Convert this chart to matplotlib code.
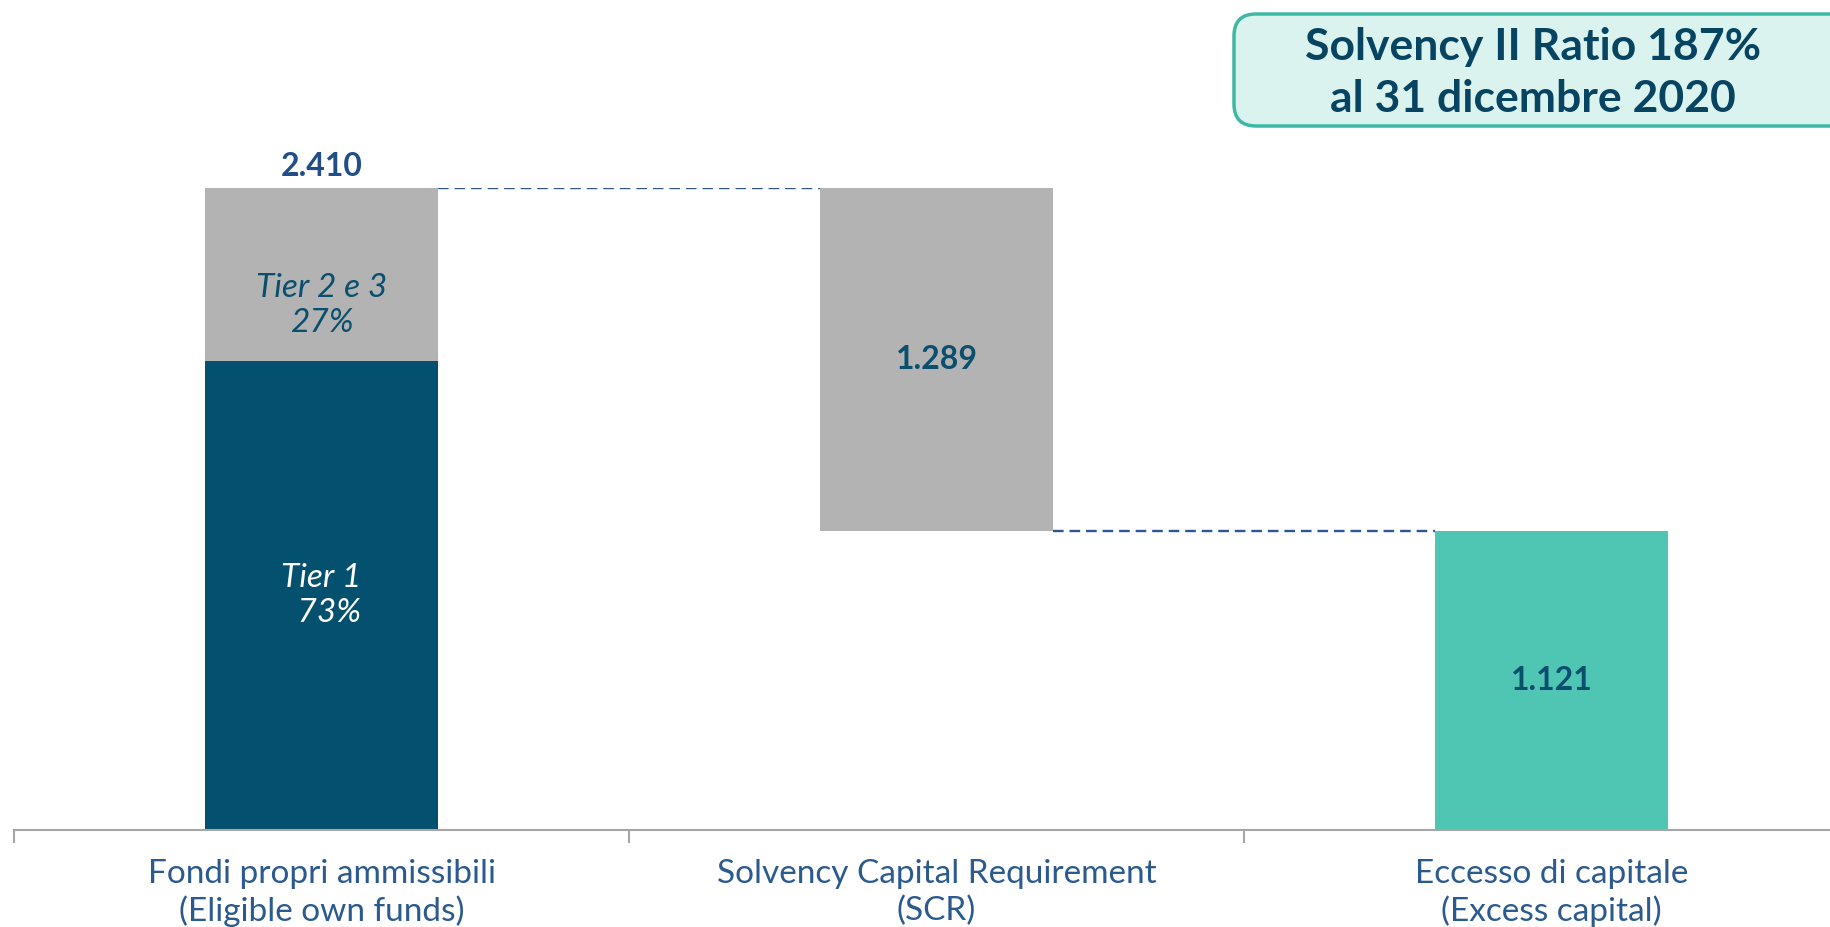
import matplotlib.pyplot as plt
from matplotlib.patches import FancyBboxPatch

categories = ["Fondi propri ammissibili\n(Eligible own funds)",
              "Solvency Capital Requirement\n(SCR)",
              "Eccesso di capitale\n(Excess capital)"]
own_funds = 2410
tier_share = [73, 27]          # Tier 1, Tier 2 e 3 (%)
scr = 1289
excess = 1121
title = "Solvency II Ratio 187%\nal 31 dicembre 2020"

plt.rcParams["font.family"] = ["Lato", "DejaVu Sans"]
DARK, GREY, TEAL = "#03506F", "#B2B3B2", "#4FC6B3"
TXT, LBL = "#0A4F6E", "#2B5A8E"

fig = plt.figure(figsize=(18.31, 9.27), dpi=100)
W, H = 1831, 927
cw = 615
ax = fig.add_axes([14 / W, (H - 830) / H, 3 * cw / W, 642 / H])
ax.set_xlim(-0.5, 2.5)
ax.set_ylim(0, own_funds)

w = 0.38
tier1 = own_funds * tier_share[0] / 100
tier2 = own_funds - tier1
ax.bar(0, tier1, w, color=DARK)
ax.bar(0, tier2, w, bottom=tier1, color=GREY)
ax.bar(1, scr, w, bottom=own_funds - scr, color=GREY)
ax.bar(2, excess, w, color=TEAL)

# connectors
dash = (0, (4.5, 2.5))
ax.plot([w / 2, 1 - w / 2], [own_funds, own_funds], ls=dash, color="#2F5597", lw=1.7)
ax.plot([1 + w / 2, 2 - w / 2], [own_funds - scr, own_funds - scr], ls=dash,
        color="#2F5597", lw=1.7)

ax.text(0, own_funds + 25, f"{own_funds:,}".replace(",", "."), ha="center", va="bottom",
        fontsize=23, fontweight="bold", color="#1F4E89", clip_on=False)
ax.text(0, tier1 + tier2 * 0.32, f"Tier 2 e 3\n{tier_share[1]}%", ha="center", va="center",
        fontsize=24, style="italic", color=TXT, linespacing=1.2)
ax.text(0, tier1 / 2, f"Tier 1\n  {tier_share[0]}%", ha="center", va="center",
        fontsize=24, style="italic", color="white", linespacing=1.2)
ax.text(1, own_funds - scr * 0.5, f"{scr:,}".replace(",", "."), ha="center", va="center",
        fontsize=23, fontweight="bold", color=TXT)
ax.text(2, excess * 0.5, f"{excess:,}".replace(",", "."), ha="center", va="center",
        fontsize=23, fontweight="bold", color=TXT)

for s in ("top", "right", "left"):
    ax.spines[s].set_visible(False)
ax.spines["bottom"].set_color("#A6A6A6")
ax.spines["bottom"].set_linewidth(1.5)
ax.set_yticks([])
ax.set_xticks([-0.5, 0.5, 1.5, 2.5])
ax.set_xticklabels([])
ax.tick_params(axis="x", length=9, width=1.5, color="#A6A6A6")
ax.set_xticks([0, 1, 2], minor=True)
ax.set_xticklabels(categories, minor=True, fontsize=24, color=LBL, linespacing=1.25)
ax.tick_params(axis="x", which="minor", length=0, pad=21)

box = FancyBboxPatch((1234 / W, 1 - 126 / H), 620 / W, 112 / H,
                     boxstyle="round,pad=0,rounding_size=0.012",
                     transform=fig.transFigure, facecolor="#DBF3EF",
                     edgecolor="#3DB8A5", lw=2.5, mutation_aspect=W / H)
fig.patches.append(box)
fig.text(1533 / W, 1 - 73 / H, title, ha="center", va="center", fontsize=32,
         fontweight="bold", color="#064461", linespacing=1.36)

fig.savefig("out.png", dpi=100)
